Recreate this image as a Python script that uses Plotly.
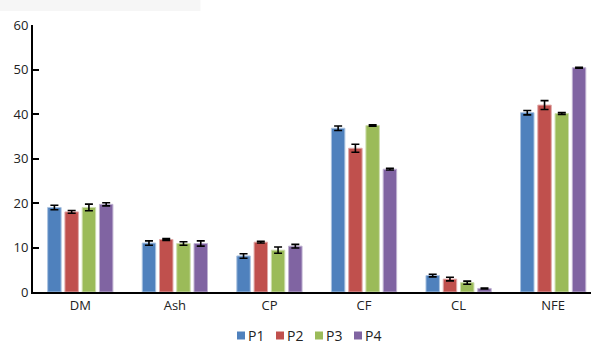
import plotly.graph_objects as go

# Proximate composition by treatment (mean ± SD)
categories = ["DM", "Ash", "CP", "CF", "CL", "NFE"]
series_names = ["P1", "P2", "P3", "P4"]

p1_values = [19.0, 11.0, 8.1, 36.8, 3.7, 40.3]
p2_values = [18.0, 11.8, 11.2, 32.3, 2.9, 42.0]
p3_values = [19.0, 10.9, 9.4, 37.4, 2.1, 40.1]
p4_values = [19.7, 10.9, 10.3, 27.6, 0.8, 50.4]

p1_errors = [0.5, 0.5, 0.5, 0.5, 0.3, 0.5]
p2_errors = [0.3, 0.2, 0.2, 0.9, 0.4, 1.0]
p3_errors = [0.75, 0.4, 0.7, 0.15, 0.35, 0.2]
p4_errors = [0.35, 0.6, 0.4, 0.2, 0.1, 0.1]

y_tick_values = [0, 10, 20, 30, 40, 50, 60]

colors = ["#4F81BD", "#C0504D", "#9BBB59", "#8064A2"]
edge_colors = ["#A9C2E0", "#E0A9A8", "#CDDDAD", "#BFB2D1"]

values = [p1_values, p2_values, p3_values, p4_values]
errors = [p1_errors, p2_errors, p3_errors, p4_errors]

font_family = "Open Sans, Noto Sans, sans-serif"

W, H = 591, 345
M_L, M_R, M_T, M_B = 33, 0, 25, 53
plot_w = W - M_L - M_R
plot_h = H - M_T - M_B


def px_to_paper_x(px):
    return (px - M_L) / plot_w


def px_to_paper_y(py):
    return (H - M_B - py) / plot_h


fig = go.Figure()
for name, vals, errs, col, edge in zip(series_names, values, errors, colors, edge_colors):
    fig.add_trace(go.Bar(
        name=name,
        x=categories,
        y=vals,
        marker=dict(color=col, line=dict(color=edge, width=1)),
        error_y=dict(type="data", array=errs, visible=True,
                     color="black", thickness=1.6, width=4),
        showlegend=False,
    ))

# Compact horizontal key below the axis: small square swatch + series name
shapes = [
    dict(type="rect", xref="paper", yref="paper",
         x0=-0.06, x1=0.3, y0=px_to_paper_y(11), y1=px_to_paper_y(0),
         fillcolor="#F6F6F6", line=dict(width=0), layer="below"),
]
annotations = []
key_start, key_step, key_size, key_mid = 237, 39, 8, 335.5
for i, (name, col) in enumerate(zip(series_names, colors)):
    x0 = key_start + i * key_step
    shapes.append(dict(
        type="rect", xref="paper", yref="paper",
        x0=px_to_paper_x(x0), x1=px_to_paper_x(x0 + key_size),
        y0=px_to_paper_y(key_mid + key_size / 2), y1=px_to_paper_y(key_mid - key_size / 2),
        fillcolor=col, line=dict(width=0),
    ))
    annotations.append(dict(
        xref="paper", yref="paper",
        x=px_to_paper_x(x0 + key_size + 1), y=px_to_paper_y(key_mid),
        xanchor="left", yanchor="middle",
        text=name, showarrow=False,
        font=dict(size=14, color="#222222"),
    ))

fig.update_layout(
    width=W,
    height=H,
    margin=dict(l=M_L, r=M_R, t=M_T, b=M_B, autoexpand=False),
    paper_bgcolor="white",
    plot_bgcolor="white",
    barmode="group",
    bargap=0.27,
    bargroupgap=0.22,
    font=dict(family=font_family, size=13, color="#222222"),
    showlegend=False,
    xaxis=dict(
        range=[-0.5, 5.4],
        showline=True, linecolor="black", linewidth=2,
        ticks="", showgrid=False, zeroline=False,
        tickfont=dict(size=13),
    ),
    yaxis=dict(
        range=[0, 60],
        tickvals=y_tick_values,
        showline=True, linecolor="black", linewidth=2,
        ticks="inside", ticklen=6, tickwidth=2, tickcolor="black",
        showgrid=False, zeroline=False,
        tickfont=dict(size=13),
    ),
    shapes=shapes,
    annotations=annotations,
)

fig.write_html("out.html")
